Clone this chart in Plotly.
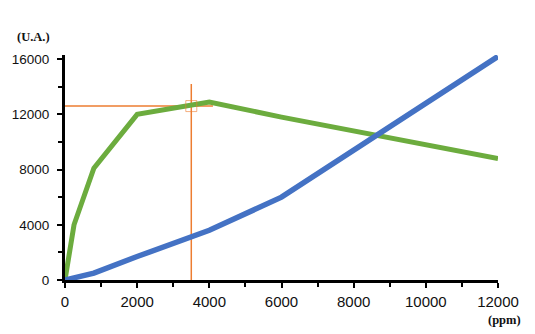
import plotly.graph_objects as go

green_x = [0, 250, 800, 2000, 4000, 6000, 12000]
green_y = [0, 4000, 8100, 12000, 12900, 11800, 8800]
blue_x = [0, 800, 2000, 4000, 6000, 12000]
blue_y = [0, 500, 1700, 3600, 6000, 16200]
ref_x = 3500
ref_y = 12600
ref_vline_top = 14200
ref_hline_right = 4100
x_ticks = [0, 2000, 4000, 6000, 8000, 10000, 12000]
x_tick_text = ["0", "2000", "4000", "6000", "8000", "10000", "12000"]
y_ticks = [0, 4000, 8000, 12000, 16000]
y_tick_text = ["0", "4000", "8000", "12000", "16000"]

fig = go.Figure()
fig.add_trace(go.Scatter(x=[ref_x, ref_x], y=[0, ref_vline_top], mode="lines",
                         line=dict(color="#ED7D31", width=1.5), hoverinfo="skip"))
fig.add_trace(go.Scatter(x=[0, ref_hline_right], y=[ref_y, ref_y], mode="lines",
                         line=dict(color="#ED7D31", width=1.5), hoverinfo="skip"))
fig.add_trace(go.Scatter(x=green_x, y=green_y, mode="lines",
                         line=dict(color="#6CAC3E", width=5)))
fig.add_trace(go.Scatter(x=blue_x, y=blue_y, mode="lines",
                         line=dict(color="#4472C4", width=5.5)))
fig.add_trace(go.Scatter(x=[ref_x], y=[ref_y], mode="markers",
                         marker=dict(symbol="square-open", size=11,
                                     color="rgba(237,125,49,0.6)", line=dict(width=1)),
                         hoverinfo="skip"))

fig.update_layout(
    width=535, height=334,
    margin=dict(l=63, r=37, t=55, b=54),
    plot_bgcolor="white", paper_bgcolor="white",
    showlegend=False,
    font=dict(family="Liberation Sans, Arial, sans-serif", color="#111"),
    xaxis=dict(range=[0, 12000], tickvals=x_ticks, ticktext=x_tick_text,
               showgrid=False, zeroline=False,
               showline=True, linecolor="black", linewidth=3,
               ticks="outside", ticklen=5, tickwidth=2, tickcolor="black",
               minor=dict(dtick=1000, ticks="outside", ticklen=4, tickwidth=2, tickcolor="black"),
               tickfont=dict(size=15), ticklabelstandoff=1),
    yaxis=dict(range=[0, 16300], tickvals=y_ticks, ticktext=y_tick_text,
               showgrid=False, zeroline=False,
               showline=True, linecolor="black", linewidth=3,
               ticks="outside", ticklen=5, tickwidth=2, tickcolor="black",
               minor=dict(dtick=2000, ticks="outside", ticklen=4, tickwidth=2, tickcolor="black"),
               tickfont=dict(size=13.5), ticklabelstandoff=5),
)
pw, ph = 535 - 63 - 37, 334 - 55 - 54
fig.add_annotation(text="<b>(U.A.)</b>", x=(13 - 63) / pw, y=(334 - 54 - 37) / ph,
                   xref="paper", yref="paper", showarrow=False,
                   font=dict(family="Liberation Serif, Times New Roman, serif", size=12.5, color="#111"),
                   xanchor="left", yanchor="middle")
fig.add_annotation(text="<b>(ppm)</b>", x=(486 - 63) / pw, y=(334 - 54 - 320) / ph,
                   xref="paper", yref="paper", showarrow=False,
                   font=dict(family="Liberation Serif, Times New Roman, serif", size=12.5, color="#111"),
                   xanchor="left", yanchor="middle")
fig.write_html("out.html")
